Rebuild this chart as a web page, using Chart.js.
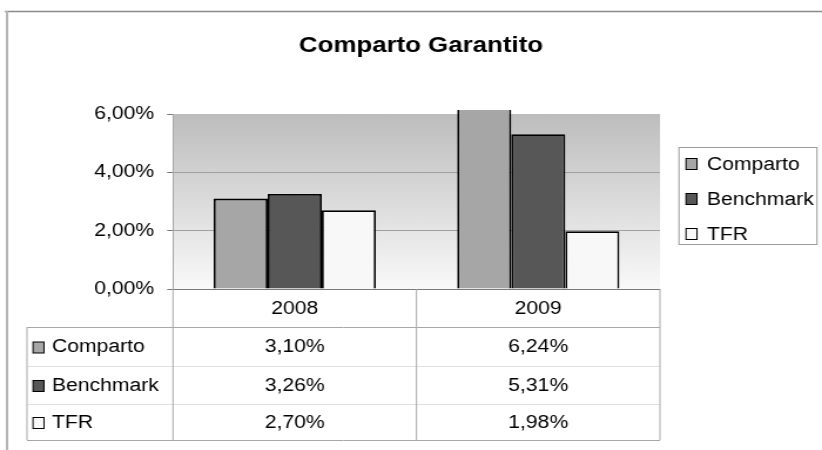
<!DOCTYPE html>
<html>
<head>
<meta charset="utf-8">
<script src="https://cdn.jsdelivr.net/npm/chart.js@4/dist/chart.umd.min.js"></script>
<style>
  html, body { margin: 0; padding: 0; background: #fff; }
</style>
</head>
<body>
<canvas id="myChart" width="700" height="450" style="display:block;width:822px;height:450px"></canvas>
<script>
// data
const categories = ["2008", "2009"];
const seriesNames = ["Comparto", "Benchmark", "TFR"];
const comparto = [3.10, 6.24];
const benchmark = [3.26, 5.31];
const tfr = [2.70, 1.98];
const yTicks = [0, 2, 4, 6];

const colors = ['#a6a6a6', '#575757', '#f8f8f8'];
const FONT = '"Liberation Sans", Arial, sans-serif';

// the original picture is a bit wider than tall, canvas is stretched by css
const S = 822 / 700;
const px = x => x / S;

function pct(v) {
  return v.toFixed(2).replace('.', ',') + '%';
}

function line(ctx, x1, y1, x2, y2) {
  ctx.beginPath();
  ctx.moveTo(x1, y1);
  ctx.lineTo(x2, y2);
  ctx.stroke();
}

function swatch(ctx, x, y, color) {
  ctx.fillStyle = color;
  ctx.fillRect(x, y - 5.5, px(11), 11);
  ctx.strokeStyle = '#000';
  ctx.lineWidth = 1;
  ctx.strokeRect(x, y - 5.5, px(11), 11);
}

const backdrop = {
  id: 'backdrop',
  beforeDraw(chart) {
    const ctx = chart.ctx;
    const a = chart.chartArea;
    ctx.save();
    ctx.fillStyle = '#fff';
    ctx.fillRect(0, 0, chart.width, chart.height);
    const g = ctx.createLinearGradient(0, a.top, 0, a.bottom);
    g.addColorStop(0, '#bdbdbd');
    g.addColorStop(1, '#f9f9f9');
    ctx.fillStyle = g;
    ctx.fillRect(a.left, a.top, a.right - a.left, a.bottom - a.top);
    // outer frame (only top and left are in the picture)
    ctx.strokeStyle = '#8a8a8a';
    ctx.lineWidth = 1.5;
    line(ctx, px(5), 11.5, chart.width, 11.5);
    ctx.strokeStyle = '#b4b4b4';
    ctx.lineWidth = 2;
    line(ctx, px(7), 11, px(7), chart.height);
    ctx.restore();
  },
  afterDraw(chart) {
    const ctx = chart.ctx;
    const a = chart.chartArea;
    const xs = chart.scales.x;
    ctx.save();

    // title
    ctx.fillStyle = '#000';
    ctx.font = 'bold 22px ' + FONT;
    ctx.textAlign = 'center';
    ctx.textBaseline = 'middle';
    ctx.fillText('Comparto Garantito', px(421), 46);

    // data table
    const rows = [289, 327, 366, 404, 440];
    const left = px(27);
    const mid = (a.left + a.right) / 2;
    ctx.lineWidth = 1;
    ctx.strokeStyle = '#e0e0e0';
    line(ctx, left, rows[2] + 0.5, a.right, rows[2] + 0.5);
    line(ctx, left, rows[3] + 0.5, a.right, rows[3] + 0.5);
    ctx.strokeStyle = '#a8a8a8';
    line(ctx, left, rows[1] + 0.5, a.right, rows[1] + 0.5);
    line(ctx, left, rows[4] + 0.5, a.right, rows[4] + 0.5);
    line(ctx, left, rows[1], left, rows[4]);
    line(ctx, a.left, rows[0], a.left, rows[4]);
    line(ctx, mid, rows[0], mid, rows[4]);
    line(ctx, a.right, rows[0], a.right, rows[4]);

    ctx.font = '18px ' + FONT;
    ctx.fillStyle = '#000';
    categories.forEach((c, i) => {
      ctx.fillText(c, xs.getPixelForValue(i), (rows[0] + rows[1]) / 2 + 1);
    });
    chart.data.datasets.forEach((ds, r) => {
      const cy = (rows[r + 1] + rows[r + 2]) / 2 + 1;
      swatch(ctx, px(33), cy, ds.backgroundColor);
      ctx.fillStyle = '#000';
      ctx.textAlign = 'left';
      ctx.fillText(ds.label, px(52), cy);
      ctx.textAlign = 'center';
      ds.data.forEach((v, i) => {
        ctx.fillText(pct(v), xs.getPixelForValue(i), cy);
      });
    });

    // legend box
    ctx.strokeStyle = '#9a9a9a';
    ctx.lineWidth = 1;
    ctx.strokeRect(px(679), 147.5, px(817) - px(679), 97);
    const ly = [164, 199, 234];
    chart.data.datasets.forEach((ds, r) => {
      swatch(ctx, px(686), ly[r], ds.backgroundColor);
      ctx.fillStyle = '#000';
      ctx.textAlign = 'left';
      ctx.fillText(ds.label, px(707), ly[r] + 1);
    });
    ctx.restore();
  }
};

const barStyle = {
  borderColor: '#000',
  borderWidth: 1.8,
  barPercentage: 1,
  categoryPercentage: 0.666,
  clip: { left: 0, top: 4, right: 0, bottom: 0 }
};

let myChart = new Chart(document.getElementById("myChart"), {
  type: 'bar',
  data: {
    labels: categories,
    datasets: [
      Object.assign({ label: seriesNames[0], data: comparto, backgroundColor: colors[0] }, barStyle),
      Object.assign({ label: seriesNames[1], data: benchmark, backgroundColor: colors[1] }, barStyle),
      Object.assign({ label: seriesNames[2], data: tfr, backgroundColor: colors[2] }, barStyle)
    ]
  },
  options: {
    responsive: false,
    animation: false,
    events: [],
    layout: { padding: { left: 0, top: 114, right: 700 - px(660), bottom: 450 - 289 } },
    plugins: {
      legend: { display: false },
      tooltip: { enabled: false },
      title: { display: false }
    },
    scales: {
      x: { display: false },
      y: {
        min: 0,
        max: 6,
        afterFit: s => { s.width = px(173); },
        afterBuildTicks: s => { s.ticks = yTicks.map(v => ({ value: v })); },
        border: { color: '#a8a8a8', width: 1 },
        grid: {
          color: c => c.tick.value === 0 ? '#7a7a7a' : (c.tick.value === 6 ? '#bdbdbd' : '#a0a0a0'),
          tickColor: '#7a7a7a',
          tickLength: 5,
          lineWidth: 1
        },
        ticks: {
          color: '#000',
          padding: 11,
          font: { family: FONT, size: 18 },
          callback: v => pct(v)
        }
      }
    }
  },
  plugins: [backdrop]
});
</script>
</body>
</html>
